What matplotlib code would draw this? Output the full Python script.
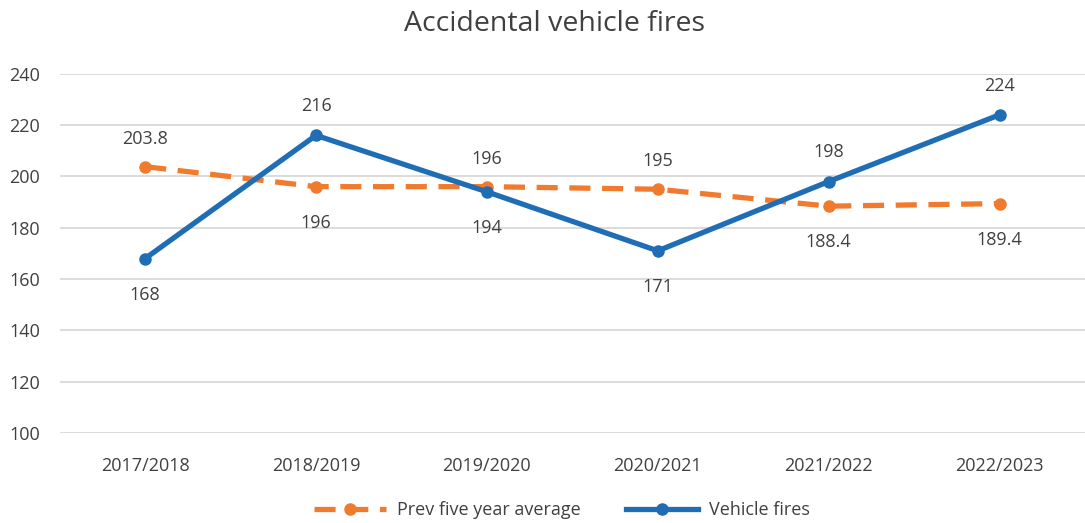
import numpy as np
import matplotlib.pyplot as plt

plt.rcParams['font.family'] = ['Open Sans', 'DejaVu Sans']

years = ["2017/2018", "2018/2019", "2019/2020", "2020/2021", "2021/2022", "2022/2023"]
fires = [168, 216, 194, 171, 198, 224]
avg5 = [203.8, 196, 196, 195, 188.4, 189.4]
avg_labels = ["203.8", "196", "196", "195", "188.4", "189.4"]
# label side: +1 above, -1 below
avg_side = [1, -1, 1, 1, -1, -1]
fire_side = [-1, 1, -1, -1, 1, 1]

orange = "#F07B2E"
blue = "#1F6DB5"
txt = "#404040"

fig = plt.figure(figsize=(10.85, 5.23), dpi=100)
ax = fig.add_axes([0.055, 0.172, 0.945, 0.687])
x = np.arange(len(years))

ax.plot(x, avg5, color=orange, lw=3.8, ls=(0, (4, 2.2)), marker="o", ms=8,
        label="Prev five year average", zorder=3)
ax.plot(x, fires, color=blue, lw=3.8, marker="o", ms=8,
        label="Vehicle fires", zorder=4)

for i in range(len(years)):
    off_a = 20 if avg_side[i] > 0 else -26
    off_f = 21 if fire_side[i] > 0 else -26
    ax.annotate(avg_labels[i], (x[i], avg5[i]), xytext=(0, off_a),
                textcoords="offset points", ha="center", va="center",
                fontsize=13, color=txt)
    ax.annotate(str(fires[i]), (x[i], fires[i]), xytext=(0, off_f),
                textcoords="offset points", ha="center", va="center",
                fontsize=13, color=txt)

ax.set_xlim(-0.5, 5.5)
ax.set_ylim(100, 240)
ax.set_yticks(range(100, 241, 20))
ax.set_xticks(x)
ax.set_xticklabels(years)
ax.grid(axis="y", color="#D9D9D9", lw=1.3)
ax.set_axisbelow(True)
for s in ax.spines.values():
    s.set_visible(False)
ax.tick_params(length=0, labelsize=13, labelcolor=txt)
ax.tick_params(axis="y", pad=14)
ax.tick_params(axis="x", pad=17)

fig.suptitle("Accidental vehicle fires", fontsize=20.5, color=txt, x=0.511, y=0.98)

ax.legend(loc="center", bbox_to_anchor=(0.49, -0.215), ncol=2, frameon=False,
          fontsize=13, labelcolor=txt, handlelength=4, columnspacing=2.5,
          handletextpad=0.6)

fig.savefig("out.png", dpi=100)
